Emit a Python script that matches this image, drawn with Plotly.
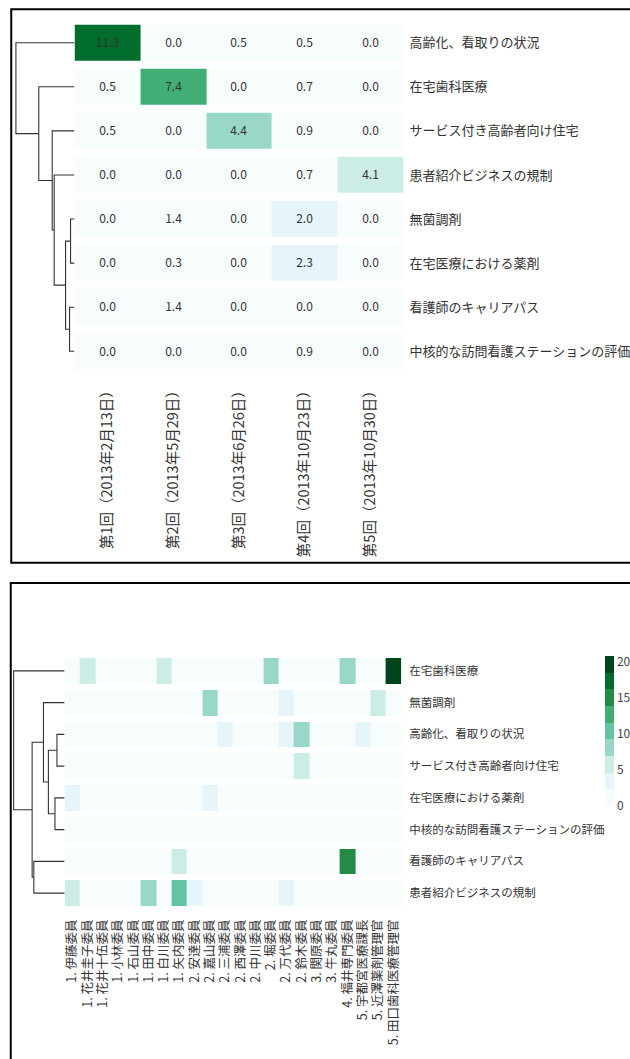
import plotly.graph_objects as go

W, H = 630, 1059

# ---------------- data: meetings x topics ----------------
meetings = ["第1回（2013年2月13日）", "第2回（2013年5月29日）", "第3回（2013年6月26日）",
            "第4回（2013年10月23日）", "第5回（2013年10月30日）"]
topics_top = ["高齢化、看取りの状況", "在宅歯科医療", "サービス付き高齢者向け住宅", "患者紹介ビジネスの規制",
              "無菌調剤", "在宅医療における薬剤", "看護師のキャリアパス", "中核的な訪問看護ステーションの評価"]
z_top = [
    [11.3, 0.0, 0.5, 0.5, 0.0],
    [0.5, 7.4, 0.0, 0.7, 0.0],
    [0.5, 0.0, 4.4, 0.9, 0.0],
    [0.0, 0.0, 0.0, 0.7, 4.1],
    [0.0, 1.4, 0.0, 2.0, 0.0],
    [0.0, 0.3, 0.0, 2.3, 0.0],
    [0.0, 1.4, 0.0, 0.0, 0.0],
    [0.0, 0.0, 0.0, 0.9, 0.0],
]
# linkage: (child a, child b, height); leaves are 0..7, merged nodes get 8, 9, ...
links_top = [(4, 5, 0.068), (6, 7, 0.085), (8, 9, 0.153), (3, 10, 0.347),
             (2, 11, 0.381), (1, 12, 0.610), (0, 13, 1.0)]

# ---------------- data: members x topics ----------------
members = ["1. 伊藤委員", "1. 花井圭子委員", "1. 花井十伍委員", "1. 小林委員", "1. 石山委員", "1. 田中委員",
           "1. 白川委員", "1. 矢内委員", "2. 安達委員", "2. 嘉山委員", "2. 三浦委員", "2. 西澤委員",
           "2. 中川委員", "2. 堀委員", "2. 万代委員", "2. 鈴木委員", "3. 関原委員", "3. 牛丸委員",
           "4. 福井専門委員", "5. 宇都宮医療課長", "5. 近澤薬剤管理官", "5. 田口歯科医療管理官"]
topics_bot = ["在宅歯科医療", "無菌調剤", "高齢化、看取りの状況", "サービス付き高齢者向け住宅",
              "在宅医療における薬剤", "中核的な訪問看護ステーションの評価", "看護師のキャリアパス", "患者紹介ビジネスの規制"]
z_bot = [
    [0, 5.6, 0, 0, 0, 0, 5.6, 0, 0, 0, 0, 0, 0, 8.3, 0, 0, 0, 0, 8.3, 0, 0, 20.8],
    [0, 0, 0, 0, 0, 0, 0, 0, 0, 8.0, 0, 0, 0, 0, 3.4, 0, 0, 0, 0, 0, 5.7, 0],
    [0, 0, 0, 0, 0, 0, 0, 0, 0, 0, 3.4, 0, 0, 0, 3.4, 8.0, 0, 0, 0, 3.4, 0, 0],
    [0, 0, 0, 0, 0, 0, 0, 0, 0, 0, 0, 0, 0, 0, 0, 5.6, 0, 0, 0, 0, 0, 0],
    [3.4, 0, 0, 0, 0, 0, 0, 0, 0, 3.4, 0, 0, 0, 0, 0, 0, 0, 0, 0, 0, 0, 0],
    [0, 0, 0, 0, 0, 0, 0, 0, 0, 0, 0, 0, 0, 0, 0, 0, 0, 0, 0, 0, 0, 0],
    [0, 0, 0, 0, 0, 0, 0, 5.6, 0, 0, 0, 0, 0, 0, 0, 0, 0, 0, 15.2, 0, 0, 0],
    [5.6, 0, 0, 0, 0, 8.0, 0, 10.3, 3.4, 0, 0, 0, 0, 0, 3.4, 0, 0, 0, 0, 0, 0, 0],
]
links_bot = [(2, 3, 0.150), (4, 5, 0.189), (8, 9, 0.318), (1, 10, 0.415),
             (6, 7, 0.604), (11, 12, 0.637), (0, 13, 1.0)]

colorbar_ticks = [0, 5, 10, 15, 20]

# stepped BuGn colour scale (9 classes)
bugn = ["#f7fcfd", "#e5f5f9", "#ccece6", "#99d8c9", "#66c2a4",
        "#41ae76", "#238b45", "#006d2c", "#00441b"]
steps = []
for i, c in enumerate(bugn):
    steps += [[i / 9, c], [(i + 1) / 9, c]]

FONT = "Noto Sans CJK JP"


def px_x(a, b):
    return [a / W, b / W]


def px_y(top, bottom):
    return [1 - bottom / H, 1 - top / H]


def dendro_xy(links, n_leaves):
    """Build the elbow connectors of a dendrogram (x = height, y = leaf index)."""
    pos = {i: (0.0, float(i)) for i in range(n_leaves)}
    xs, ys = [], []
    for k, (a, b, h) in enumerate(links):
        ha, ya = pos[a]
        hb, yb = pos[b]
        xs += [ha, h, h, hb, None]
        ys += [ya, ya, yb, yb, None]
        pos[n_leaves + k] = (h, (ya + yb) / 2)
    return xs, ys


fig = go.Figure()

# ---------- upper panel ----------
fig.add_trace(go.Heatmap(
    z=z_top, x=meetings, y=list(range(len(topics_top))),
    colorscale=steps, zmin=0, zmax=13, showscale=False, ygap=8,
    texttemplate="%{z:.1f}", textfont=dict(size=12, color="#333", family=FONT),
    xaxis="x", yaxis="y", hoverinfo="skip"))
dx, dy = dendro_xy(links_top, len(topics_top))
fig.add_trace(go.Scatter(x=dx, y=dy, mode="lines", line=dict(color="#333", width=1.1),
                         xaxis="x2", yaxis="y", showlegend=False, hoverinfo="skip"))

# ---------- lower panel ----------
fig.add_trace(go.Heatmap(
    z=z_bot, x=members, y=list(range(len(topics_bot))),
    colorscale=steps, zmin=0, zmax=20.8, ygap=6,
    colorbar=dict(x=606 / W, xanchor="left", xpad=0, y=1 - 656 / H, yanchor="top", ypad=0,
                  len=150, lenmode="pixels", thickness=9, outlinewidth=0,
                  tickvals=colorbar_ticks, ticks="", ticklabelposition="outside",
                  tickfont=dict(size=12, color="#444", family=FONT)),
    xaxis="x3", yaxis="y3", hoverinfo="skip"))
dx, dy = dendro_xy(links_bot, len(topics_bot))
fig.add_trace(go.Scatter(x=dx, y=dy, mode="lines", line=dict(color="#333", width=1.1),
                         xaxis="x4", yaxis="y3", showlegend=False, hoverinfo="skip"))

ax_common = dict(showgrid=False, zeroline=False, showline=False, ticks="")

fig.update_layout(
    width=W, height=H, margin=dict(l=0, r=0, t=0, b=0), autosize=False,
    paper_bgcolor="white", plot_bgcolor="white",
    font=dict(family=FONT, color="#333"),
    xaxis=dict(domain=px_x(72, 403), anchor="y", tickangle=-90, ticklabelstandoff=6,
               tickfont=dict(size=14.5, color="#333"), **ax_common),
    yaxis=dict(domain=px_y(20.7, 373.3), anchor="x", side="right", range=[7.5, -0.5],
               tickvals=list(range(len(topics_top))), ticktext=topics_top, ticklabelstandoff=5,
               tickfont=dict(size=13, color="#333"), **ax_common),
    xaxis2=dict(domain=px_x(10, 72), anchor="y", range=[1.0 * 62 / 59, 0],
                showticklabels=False, **ax_common),
    xaxis3=dict(domain=px_x(62, 400.7), anchor="y3", tickangle=-90, ticklabelstandoff=7,
                tickfont=dict(size=12.5, color="#333"), **ax_common),
    yaxis3=dict(domain=px_y(655, 909), anchor="x3", side="right", range=[7.5, -0.5],
                tickvals=list(range(len(topics_bot))), ticktext=topics_bot, ticklabelstandoff=7,
                tickfont=dict(size=11.5, color="#333"), **ax_common),
    xaxis4=dict(domain=px_x(8, 62), anchor="y3", range=[1.0 * 54 / 51.3, 0],
                showticklabels=False, **ax_common),
)

# panel frames
fig.add_shape(type="rect", xref="paper", yref="paper",
              x0=8.3 / W, x1=640 / W, y0=1 - 562.7 / H, y1=1 - 9.3 / H,
              line=dict(color="black", width=2), fillcolor="rgba(0,0,0,0)", layer="below")
fig.add_shape(type="rect", xref="paper", yref="paper",
              x0=7.8 / W, x1=640 / W, y0=1 - 1070 / H, y1=1 - 583 / H,
              line=dict(color="black", width=2), fillcolor="rgba(0,0,0,0)", layer="below")

fig.write_html("out.html")
